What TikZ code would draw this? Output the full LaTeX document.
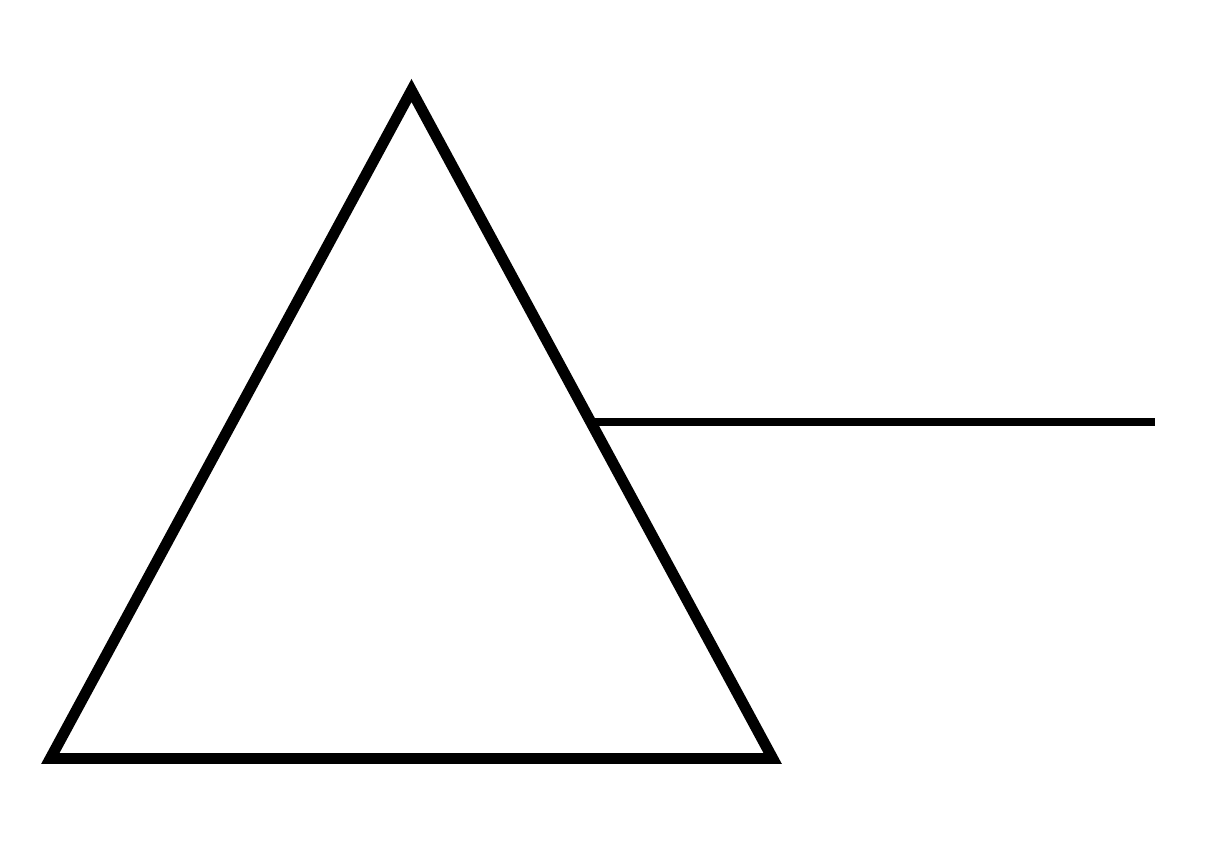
\documentclass[tikz,border=0pt]{standalone}
\usepackage{tikz}

\begin{document}
\begin{tikzpicture}[x=0.025cm,y=-0.025cm]
                \useasboundingbox (0,0) rectangle (1213,856);
                % Prism corners
                \coordinate (apex) at (411.5,90.5);
                \coordinate (left) at (50.3,758.5);
                \coordinate (right) at (772.7,758.5);
                
                % Prism
                \draw[line width=7.8pt,miter limit=10] (apex) -- (left) -- (right) -- cycle;
                
                % Light beam
                \coordinate (beamin) at (595,422);
                \coordinate (beamout) at (1155,422);
                \draw[line width=5pt] (beamin) -- (beamout);
            \end{tikzpicture}
\end{document}
